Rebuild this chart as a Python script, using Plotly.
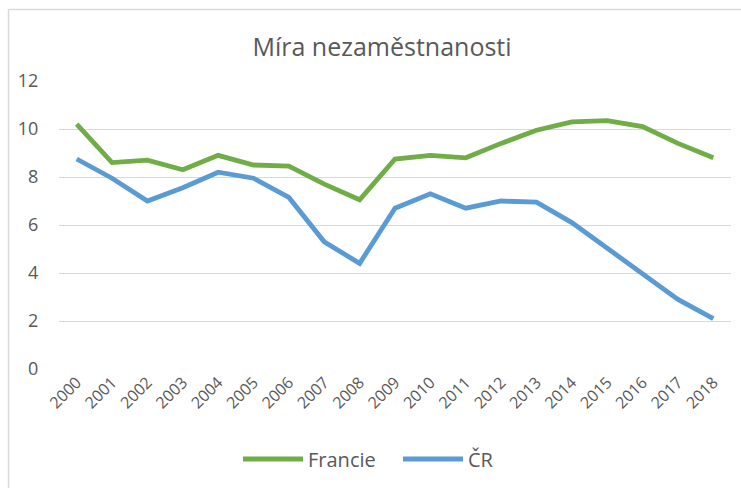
import plotly.graph_objects as go

years = [str(y) for y in range(2000, 2019)]
francie = [10.2, 8.6, 8.7, 8.3, 8.9, 8.5, 8.45, 7.7, 7.05, 8.75, 8.9, 8.8, 9.4, 9.95, 10.3, 10.35, 10.1, 9.4, 8.8]
cr = [8.75, 7.95, 7.0, 7.55, 8.2, 7.95, 7.15, 5.3, 4.4, 6.7, 7.3, 6.7, 7.0, 6.95, 6.1, 5.05, 3.95, 2.9, 2.1]
y_ticks = [0, 2, 4, 6, 8, 10, 12]

FONT = "Open Sans"
GRAY = "#595959"

fig = go.Figure()
fig.add_trace(go.Scatter(x=years, y=francie, name="Francie", mode="lines",
                         line=dict(color="#70AD47", width=4.8)))
fig.add_trace(go.Scatter(x=years, y=cr, name="ČR", mode="lines",
                         line=dict(color="#5B9BD5", width=4.8)))

L, R, T, B = 59, 10, 81, 119
W, H = 741, 488
pw = W - L - R
ph = H - T - B

def px_x(px):
    return (px - L) / pw

def px_y(py):
    return (H - B - py) / ph

fig.update_layout(
    width=W, height=H,
    margin=dict(l=L, r=R, t=T, b=B),
    paper_bgcolor="white", plot_bgcolor="white",
    font=dict(family=FONT, color=GRAY),
    title=dict(text="Míra nezaměstnanosti", x=382 / W, xref="container",
               xanchor="center", y=1 - 47 / H, yref="container", yanchor="middle",
               font=dict(family=FONT, size=25, color=GRAY)),
    showlegend=True,
    legend=dict(orientation="h", x=px_x(238), xanchor="left", xref="paper",
                y=px_y(459), yanchor="middle",
                font=dict(family=FONT, size=20, color=GRAY),
                itemwidth=60, entrywidth=85, entrywidthmode="pixels"),
    shapes=[
        dict(type="line", xref="paper", yref="paper",
             x0=px_x(8.5), x1=px_x(760), y0=px_y(9.5), y1=px_y(9.5),
             line=dict(color="#D9D9D9", width=1.5)),
        dict(type="line", xref="paper", yref="paper",
             x0=px_x(8.5), x1=px_x(8.5), y0=px_y(9.5), y1=px_y(500),
             line=dict(color="#D9D9D9", width=1.5)),
    ],
)

fig.update_xaxes(type="category", range=[-0.5, len(years) - 0.5],
                 tickangle=-45, showgrid=False, showline=False, zeroline=False,
                 ticks="", tickfont=dict(family=FONT, size=16, color=GRAY))
fig.update_yaxes(range=[0, 12], tickvals=y_ticks, showgrid=True, gridcolor="#D9D9D9",
                 gridwidth=1, zeroline=False, showline=False,
                 ticks="outside", ticklen=16, tickcolor="rgba(0,0,0,0)",
                 tickfont=dict(family=FONT, size=18, color=GRAY))

fig.write_html("out.html", config={"displayModeBar": False},
               post_script="document.body.style.margin='0';document.body.style.overflow='hidden';")
